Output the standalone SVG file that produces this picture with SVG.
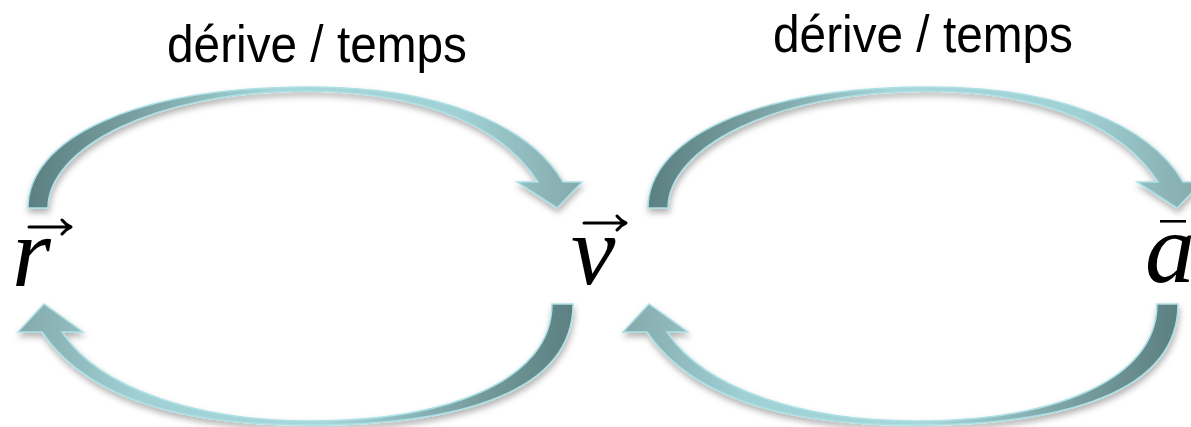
<svg xmlns="http://www.w3.org/2000/svg" width="1191" height="427" viewBox="0 0 1191 427">
<defs>
<linearGradient id="gTop" x1="0" y1="0" x2="1" y2="0">
<stop offset="0" stop-color="#5c8081"/>
<stop offset="0.18" stop-color="#779d9f"/>
<stop offset="0.45" stop-color="#a6d7db"/>
<stop offset="0.78" stop-color="#a0d0d4"/>
<stop offset="1" stop-color="#84a9ab"/>
</linearGradient>
<linearGradient id="gBot" x1="1" y1="0" x2="0" y2="0">
<stop offset="0" stop-color="#5c8081"/>
<stop offset="0.18" stop-color="#779d9f"/>
<stop offset="0.45" stop-color="#a6d7db"/>
<stop offset="0.78" stop-color="#a0d0d4"/>
<stop offset="1" stop-color="#84a9ab"/>
</linearGradient>
<filter id="sh" x="-10%" y="-10%" width="120%" height="130%">
<feDropShadow dx="1" dy="4" stdDeviation="3" flood-color="#000" flood-opacity="0.3"/>
</filter>
</defs>
<style>
.lbl{font-family:"Liberation Sans",Arial,sans-serif;font-size:52px;fill:#000}
.sym{font-family:"Liberation Serif","Times New Roman",serif;font-style:italic;font-size:100px;fill:#000}
.arrT{fill:url(#gTop);stroke:#abe0e4;stroke-width:1.5;filter:url(#sh)}
.arrB{fill:url(#gBot);stroke:#abe0e4;stroke-width:1.5;filter:url(#sh)}
.vec{fill:none;stroke:#000;stroke-width:3;stroke-linecap:round;stroke-linejoin:round}
</style>
<g id="connectors">
<g id="top-left">
<path class="arrT" d="M28,208 C28,140 130,87 310,87 C440,87 530,125 563,182 L582,182 L557,208 L517,182 L538,182 C505,130 430,92 310,91 C150,91 48,150 48,208 Z"/>
</g>
<g id="bottom-left">
<path class="arrB" d="M573,304 C573,392 460,425 310,425 C210,425 95,410 42,332 L18,332 L44,304 L83,332 L62,332 C100,390 200,421 310,421 C450,421 552,380 552,304 Z"/>
</g>
<g id="top-right" transform="translate(620,0)">
<path class="arrT" d="M28,208 C28,140 130,87 310,87 C440,87 530,125 563,182 L582,182 L557,208 L517,182 L538,182 C505,130 430,92 310,91 C150,91 48,150 48,208 Z"/>
</g>
<g id="bottom-right" transform="translate(605,0)">
<path class="arrB" d="M573,304 C573,392 460,425 310,425 C210,425 95,410 42,332 L18,332 L44,304 L83,332 L62,332 C100,390 200,421 310,421 C450,421 552,380 552,304 Z"/>
</g>
<text class="lbl" x="167" y="62" textLength="300" lengthAdjust="spacingAndGlyphs">dérive / temps</text>
<text class="lbl" x="773" y="52" textLength="300" lengthAdjust="spacingAndGlyphs">dérive / temps</text>
</g>
<g id="node-r">
<text class="sym" x="12" y="286">r</text>
<path class="vec" d="M29,227 L70,227 M62,220 Q66,225 71,227 Q66,229 62,234"/>
</g>
<g id="node-v">
<text class="sym" x="571" y="284">v</text>
<path class="vec" d="M584,223 L625,223 M617,216 Q621,221 626,223 Q621,225 617,230"/>
</g>
<g id="node-a">
<text class="sym" x="1145" y="282">a</text>
<rect x="1160" y="220" width="26" height="2.6" fill="#000"/>
</g>
</svg>
